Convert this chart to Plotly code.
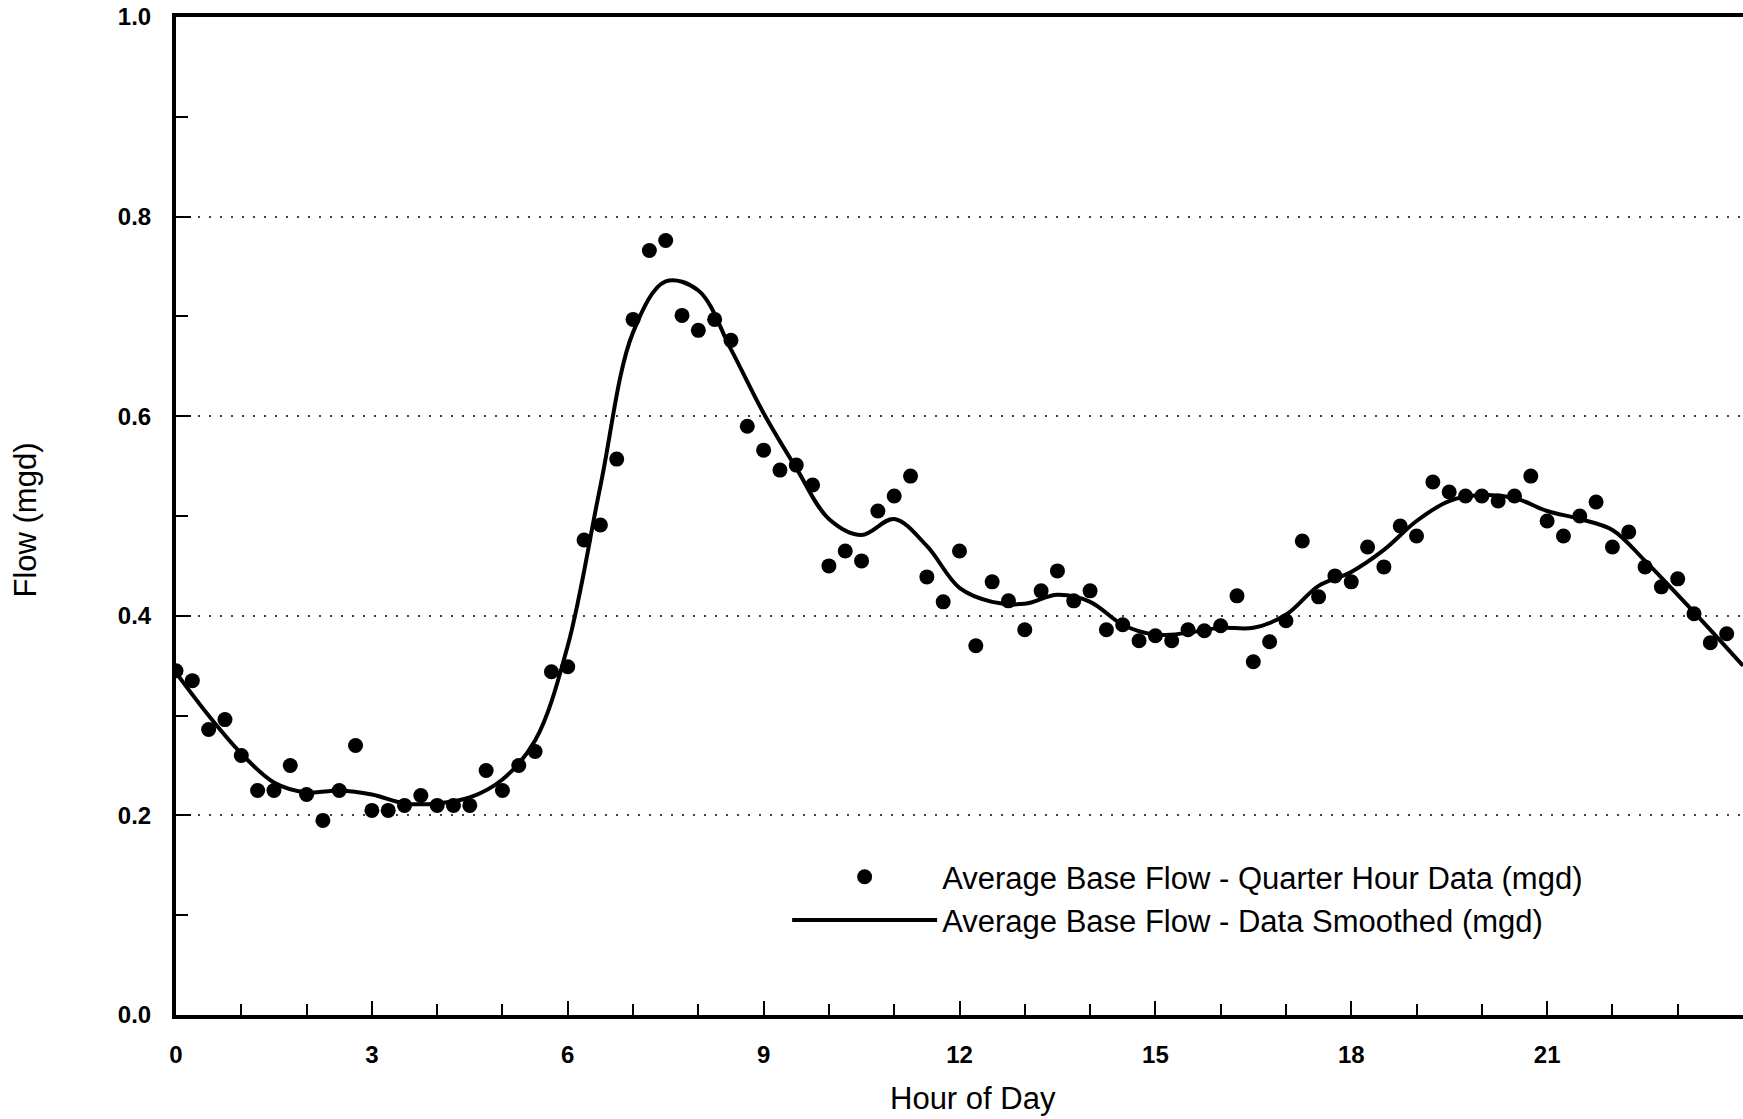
import plotly.graph_objects as go

# Quarter-hour observations (hour 0.00 .. 23.75)
hours_q = [i * 0.25 for i in range(96)]
flow_q = [
    0.345, 0.335, 0.286, 0.296, 0.260, 0.225, 0.225, 0.250, 0.221, 0.195, 0.225, 0.270,
    0.205, 0.205, 0.210, 0.220,
    0.210, 0.210, 0.210, 0.245,
    0.225, 0.250, 0.264, 0.344,
    0.349, 0.476, 0.491, 0.557,
    0.697, 0.766, 0.776, 0.701,
    0.686, 0.697, 0.676, 0.590,
    0.566, 0.546, 0.551, 0.531,
    0.450, 0.465, 0.455, 0.505,
    0.520, 0.540, 0.439, 0.414,
    0.465, 0.370, 0.434, 0.415,
    0.386, 0.425, 0.445, 0.415,
    0.425, 0.386, 0.391, 0.375,
    0.380, 0.375, 0.386, 0.385,
    0.390, 0.420, 0.354, 0.374,
    0.395, 0.475, 0.419, 0.440,
    0.434, 0.469, 0.449, 0.490,
    0.480, 0.534, 0.524, 0.520,
    0.520, 0.515, 0.520, 0.540,
    0.495, 0.480, 0.500, 0.514,
    0.469, 0.484, 0.449, 0.429,
    0.437, 0.402, 0.373, 0.382,
]

# Smoothed curve (read every half hour)
hours_s = [i * 0.5 for i in range(49)]
flow_s = [
    0.343, 0.300, 0.262, 0.233, 0.223, 0.225, 0.221, 0.212,
    0.212, 0.218, 0.236, 0.275, 0.370, 0.530, 0.684, 0.735,
    0.726, 0.667, 0.603, 0.548, 0.497, 0.481, 0.497, 0.470,
    0.428, 0.414, 0.412, 0.421, 0.414, 0.391, 0.381, 0.383,
    0.388, 0.388, 0.401, 0.430, 0.444, 0.466, 0.495, 0.515,
    0.521, 0.518, 0.505, 0.497, 0.486, 0.455, 0.421, 0.386,
    0.350,
]

x_tickvals = [0, 3, 6, 9, 12, 15, 18, 21]
x_ticktext = ["0", "3", "6", "9", "12", "15", "18", "21"]
y_tickvals = [0.0, 0.2, 0.4, 0.6, 0.8, 1.0]
y_ticktext = ["0.0", "0.2", "0.4", "0.6", "0.8", "1.0"]

FONT = "Liberation Sans, Arial, sans-serif"

fig = go.Figure()
fig.add_trace(go.Scatter(
    x=hours_q, y=flow_q, mode="markers",
    name="Average Base Flow - Quarter Hour Data (mgd)",
    marker=dict(color="black", size=15),
))
fig.add_trace(go.Scatter(
    x=hours_s, y=flow_s, mode="lines",
    name="Average Base Flow - Data Smoothed (mgd)",
    line=dict(color="black", width=4, shape="spline", smoothing=1.0),
))

fig.update_layout(
    width=1743, height=1119,
    margin=dict(l=176, r=0, t=17, b=104),
    paper_bgcolor="white", plot_bgcolor="white",
    font=dict(family=FONT, color="black"),
    showlegend=True,
    legend=dict(
        x=0.390, y=0.1167,
        xanchor="left", yanchor="middle",
        font=dict(family=FONT, size=31, color="black"),
        itemwidth=145, bgcolor="rgba(0,0,0,0)",
        tracegroupgap=0,
    ),
    annotations=[
        dict(text="Hour of Day", x=12.2, xref="x", y=-0.084, yref="paper",
             showarrow=False, xanchor="center", yanchor="middle",
             font=dict(family=FONT, size=31, color="black")),
        dict(text="Flow (mgd)", x=-0.096, xref="paper", y=0.496, yref="paper",
             showarrow=False, xanchor="center", yanchor="middle", textangle=-90,
             font=dict(family=FONT, size=31, color="black")),
    ],
)

fig.update_xaxes(
    range=[0, 24], automargin=False,
    tickmode="array", tickvals=x_tickvals, ticktext=x_ticktext,
    ticks="inside", ticklen=14, tickwidth=1.5, tickcolor="black",
    minor=dict(tick0=0, dtick=1, ticks="inside", ticklen=11, tickwidth=1.5,
               tickcolor="black", showgrid=False),
    showgrid=False, zeroline=False,
    showline=True, linewidth=4, linecolor="black", mirror=True,
    tickfont=dict(family=FONT, size=24, color="black", weight="bold"),
    ticklabelstandoff=15,
)
fig.update_yaxes(
    range=[0, 1], automargin=False,
    tickmode="array", tickvals=y_tickvals, ticktext=y_ticktext,
    ticks="inside", ticklen=15, tickwidth=1.5, tickcolor="black",
    minor=dict(tick0=0, dtick=0.1, ticks="inside", ticklen=12, tickwidth=1.5,
               tickcolor="black", showgrid=False),
    showgrid=True, gridcolor="#444444", gridwidth=1.5, griddash="2px,9px",
    zeroline=False,
    showline=True, linewidth=4, linecolor="black", mirror=True,
    tickfont=dict(family=FONT, size=24, color="black", weight="bold"),
    ticklabelstandoff=16,
)

# remove the browser's default 8px body margin so the figure fills the window exactly
fig.write_html(
    "out.html",
    config={"displayModeBar": False},
    post_script="document.body.style.margin='0';document.body.style.overflow='hidden';",
)
